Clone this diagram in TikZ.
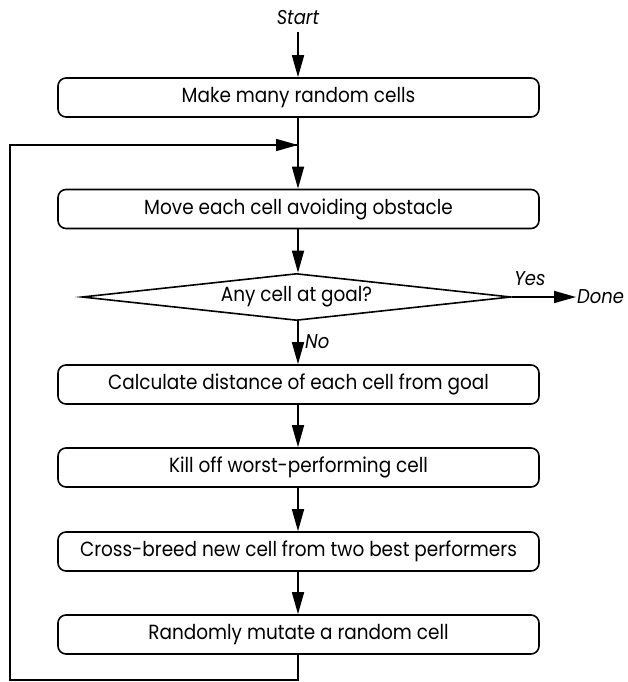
\documentclass[tikz,border=0pt]{standalone}
\usepackage{fontspec}
\setmainfont{Poppins}[FakeStretch=0.9]
\usetikzlibrary{arrows.meta,shapes.geometric}
\begin{document}
\begin{tikzpicture}[x=1pt,y=-1pt,
  every node/.style={font=\fontsize{20.5}{22}\selectfont},
  stepbox/.style={draw,line width=1.6pt,rounded corners=8pt,minimum width=481pt,minimum height=39pt,inner sep=0pt},
  decide/.style={draw,diamond,line width=1.6pt,minimum width=429pt,minimum height=47pt,inner sep=0pt,aspect=9},
  lbl/.style={font=\fontsize{20}{22}\selectfont\itshape,inner sep=1pt},
  flow/.style={line width=1.6pt,-{Triangle[length=22pt,width=12pt]}},
  plain/.style={line width=1.6pt}]
\useasboundingbox (0,0) rectangle (628,682);
\node[lbl] (start) at (298,18) {Start};
\node[stepbox] (b1) at (298.5,97.5) {Make many random cells};
\coordinate (j1) at (298,145);
\node[stepbox] (b2) at (298.5,209) {Move each cell avoiding obstacle};
\node[decide] (d) at (296.5,297) {Any cell at goal?};
\node[lbl,anchor=west] (done) at (576,297) {Done};
\node[lbl] (yes) at (530,279) {Yes};
\node[stepbox] (b3) at (298.5,384.5) {Calculate distance of each cell from goal};
\node[lbl,anchor=west] (no) at (304,342) {No};
\node[stepbox] (b4) at (298.5,467.5) {Kill off worst-performing cell};
\node[stepbox] (b5) at (298.5,551.5) {Cross-breed new cell from two best performers};
\node[stepbox] (b6) at (298.5,634.5) {Randomly mutate a random cell};
\coordinate (c1) at (298,680);
\coordinate (c2) at (10,680);
\coordinate (c3) at (10,145);
\draw[flow] (298,32) -- (b1.north -| start);
\draw[flow] (b1.south -| j1) -- (b2.north -| j1);
\draw[flow] (b2.south -| j1) -- (d.north -| j1);
\draw[flow] (d.east) -- (done.west);
\draw[flow] (d.south -| j1) -- (b3.north -| j1);
\draw[flow] (b3.south -| j1) -- (b4.north -| j1);
\draw[flow] (b4.south -| j1) -- (b5.north -| j1);
\draw[flow] (b5.south -| j1) -- (b6.north -| j1);
\draw[plain] (b6.south -| j1) -- (c1) -- (c2) -- (c3) -- (j1);
\draw[flow] (c3) -- (j1);
\end{tikzpicture}
\end{document}
